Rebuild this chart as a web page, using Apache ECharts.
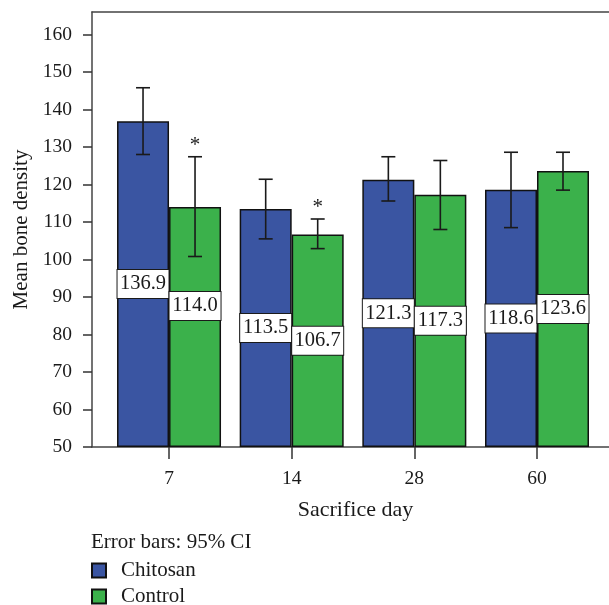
<!DOCTYPE html>
<html>
<head>
<meta charset="utf-8">
<script src="https://cdn.jsdelivr.net/npm/echarts@6/dist/echarts.min.js"></script>
<style>html,body{margin:0;padding:0;background:#fff}#c{width:609px;height:605px}</style>
</head>
<body>
<div id="c"></div>
<script>
// ---- data ----
var categories = ['7', '14', '28', '60'];
var chitosanMean = [136.9, 113.5, 121.3, 118.6];
var controlMean = [114.0, 106.7, 117.3, 123.6];
var chitosanLow = [128.0, 105.5, 115.6, 108.5];
var chitosanHigh = [145.8, 121.4, 127.4, 128.6];
var controlLow = [100.8, 102.9, 108.0, 118.5];
var controlHigh = [127.4, 110.8, 126.4, 128.6];
var controlSignif = ['*', '*', '', ''];
var chitosanSignif = ['', '', '', ''];
var yTicks = [50, 60, 70, 80, 90, 100, 110, 120, 130, 140, 150, 160];
var xPositions = [1, 2, 3, 4];

var FONT = 'Liberation Serif';
var BLUE = '#3a55a2';
var GREEN = '#3bb14b';
var BARW = 52;
var XMIN = 0.372, XMAX = 4.587;

function barData(vals, labelShift) {
  return vals.map(function (v, i) {
    var item = { value: [xPositions[i], v] };
    if (labelShift && labelShift[i]) item.label = { offset: [0, labelShift[i]] };
    return item;
  });
}
function errData(lo, hi, sig) {
  return lo.map(function (l, i) { return [xPositions[i], l, hi[i], sig[i]]; });
}
function errRender(shift) {
  return function (params, api) {
    var x = api.value(0);
    var pLo = api.coord([x, api.value(1)]);
    var pHi = api.coord([x, api.value(2)]);
    var cx = pLo[0] + shift;
    var cap = 7;
    var st = { stroke: '#1a1a1a', lineWidth: 1.6 };
    var children = [
      { type: 'line', shape: { x1: cx, y1: pLo[1], x2: cx, y2: pHi[1] }, style: st },
      { type: 'line', shape: { x1: cx - cap, y1: pLo[1], x2: cx + cap, y2: pLo[1] }, style: st },
      { type: 'line', shape: { x1: cx - cap, y1: pHi[1], x2: cx + cap, y2: pHi[1] }, style: st }
    ];
    var s = api.value(3);
    if (s) {
      children.push({ type: 'text', style: { text: s, x: cx, y: pHi[1] - 1, align: 'center', verticalAlign: 'bottom', fontFamily: FONT, fontSize: 21, fill: '#1a1a1a' } });
    }
    return { type: 'group', children: children };
  };
}

var labelStyle = {
  show: true, position: 'inside', color: '#1a1a1a', fontFamily: FONT, fontSize: 20.5,
  backgroundColor: '#fff', borderColor: '#1a1a1a', borderWidth: 1,
  width: 51, align: 'center', padding: [4, 0, 3, 0], lineHeight: 21,
  formatter: function (p) { return p.value[1].toFixed(1); }
};

var chart = echarts.init(document.getElementById('c'), null, { renderer: 'canvas' });
chart.setOption({
  animation: false,
  backgroundColor: '#fff',
  textStyle: { fontFamily: FONT },
  grid: { left: 92, right: 0, top: 12, height: 435, show: false },
  title: {
    text: 'Error bars: 95% CI', left: 91, top: 532, padding: 0,
    textStyle: { fontFamily: FONT, fontSize: 21, fontWeight: 'normal', color: '#1a1a1a' }
  },
  legend: {
    orient: 'vertical', left: 91, top: 560, padding: 0, height: 60,
    itemWidth: 14, itemHeight: 14, itemGap: 5,
    icon: 'rect',
    textStyle: { fontFamily: FONT, fontSize: 21, color: '#1a1a1a', padding: [0, 0, 0, 10] },
    data: ['Chitosan', 'Control']
  },
  xAxis: [{
    type: 'value', min: XMIN, max: XMAX,
    name: 'Sacrifice day', nameLocation: 'middle', nameGap: 52,
    nameTextStyle: { fontFamily: FONT, fontSize: 22, color: '#1a1a1a', padding: [0, 0, 0, 10] },
    axisLine: { show: true, lineStyle: { color: '#444', width: 1.5 } },
    axisTick: { show: true, length: 12, customValues: xPositions, lineStyle: { color: '#333', width: 1.5 } },
    axisLabel: {
      customValues: xPositions, margin: 22, fontFamily: FONT, fontSize: 19.5, color: '#1a1a1a',
      formatter: function (v) { var i = xPositions.indexOf(v); return i >= 0 ? categories[i] : ''; }
    },
    splitLine: { show: false }
  }, {
    type: 'value', position: 'top', min: XMIN, max: XMAX,
    axisLine: { show: true, lineStyle: { color: '#444', width: 1.5 } },
    axisTick: { show: false }, axisLabel: { show: false }, splitLine: { show: false }
  }],
  yAxis: {
    type: 'value', min: 50, max: 166, startValue: 50,
    name: 'Mean bone density', nameLocation: 'middle', nameGap: 60,
    nameTextStyle: { fontFamily: FONT, fontSize: 21, color: '#1a1a1a' },
    axisLine: { show: true, lineStyle: { color: '#444', width: 1.5 } },
    axisTick: { show: true, length: 9, customValues: yTicks, lineStyle: { color: '#333', width: 1.5 } },
    axisLabel: { customValues: yTicks, margin: 20, fontFamily: FONT, fontSize: 19.5, color: '#1a1a1a' },
    splitLine: { show: false }
  },
  series: [
    {
      name: 'Chitosan', type: 'bar', barWidth: BARW, barGap: '0%',
      itemStyle: { color: BLUE, borderColor: '#111', borderWidth: 1.5 },
      label: labelStyle,
      data: barData(chitosanMean),
      z: 2
    },
    {
      name: 'Control', type: 'bar', barWidth: BARW, barGap: '0%',
      itemStyle: { color: GREEN, borderColor: '#111', borderWidth: 1.5 },
      label: labelStyle,
      data: barData(controlMean, [-21, 0, 0, 0]),
      z: 2
    },
    {
      type: 'custom', renderItem: errRender(-BARW / 2), data: errData(chitosanLow, chitosanHigh, chitosanSignif), z: 5, silent: true
    },
    {
      type: 'custom', renderItem: errRender(BARW / 2), data: errData(controlLow, controlHigh, controlSignif), z: 5, silent: true
    }
  ]
});
</script>
</body>
</html>
